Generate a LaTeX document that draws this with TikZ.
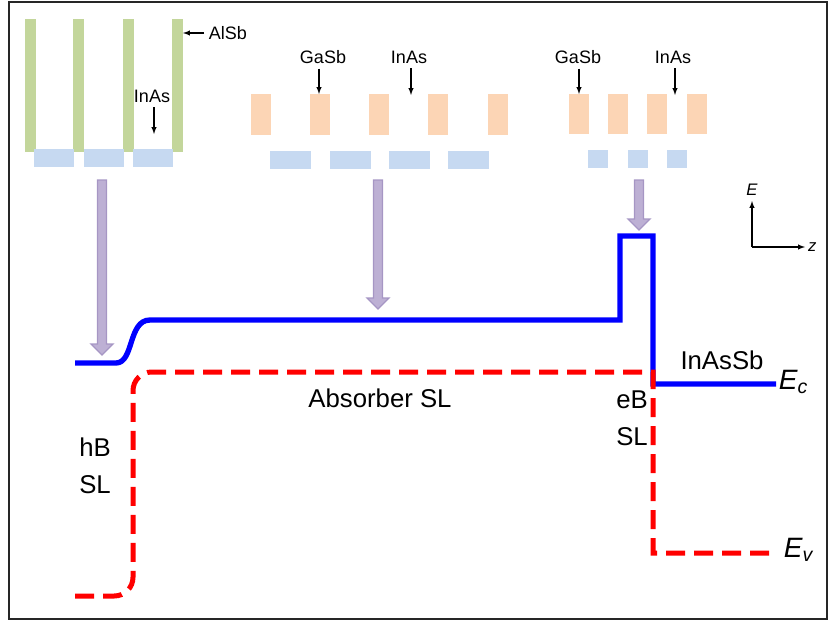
\documentclass[tikz,border=0pt]{standalone}
\usepackage{fontspec}
\setmainfont{Liberation Sans}
\usetikzlibrary{arrows, positioning, calc}

\definecolor{alsbgreen}{RGB}{195,214,155}
\definecolor{gasborange}{RGB}{252,213,181}
\definecolor{inasblue}{RGB}{198,217,241}
\definecolor{arrowfill}{RGB}{189,176,212}
\definecolor{arrowedge}{RGB}{166,150,196}

\begin{document}
\begin{tikzpicture}[x=0.75pt, y=-0.75pt, >=latex, thick,
    lbl/.style={font=\fontsize{19.3pt}{27.75pt}\selectfont},
    smalllbl/.style={font=\fontsize{13.5pt}{16pt}\selectfont},
    bandlbl/.style={font=\fontsize{21pt}{25pt}\selectfont\itshape},
    axislbl/.style={font=\fontsize{12.5pt}{15pt}\selectfont\itshape, inner sep=1pt},
    bigarrow/.style={fill=arrowfill, draw=arrowedge, line width=1pt},
    cband/.style={blue, line width=4pt},
    vband/.style={red, line width=3.75pt, dash pattern=on 14.25pt off 6.75pt}]
        \useasboundingbox (0,0) rectangle (833,621);
        \draw[black!85, line width=1.2pt] (9,2) rectangle (827,619);

        % Layer stacks (top)
        \foreach \x in {25,73,123,172} \fill[alsbgreen] (\x,19) rectangle ++(11,133);
        \foreach \x in {34,84,133} \fill[inasblue] (\x,149) rectangle ++(40,18);
        \foreach \x in {251,310,369,428,488} \fill[gasborange] (\x,94) rectangle ++(20,41);
        \foreach \x in {270,330,389,448} \fill[inasblue] (\x,151) rectangle ++(41,18);
        \foreach \x in {569,608,647,687} \fill[gasborange] (\x,94) rectangle ++(20,40);
        \foreach \x in {588,628,667} \fill[inasblue] (\x,150) rectangle ++(20,18);

        % Layer labels
        \node (AlSb) [smalllbl, anchor=west] at (204,33) {AlSb};
        \node (InAsL) [smalllbl] at (152,96) {InAs};
        \node (GaSbM) [smalllbl] at (323,57) {GaSb};
        \node (InAsM) [smalllbl] at (409,57) {InAs};
        \node (GaSbR) [smalllbl] at (578,57) {GaSb};
        \node (InAsR) [smalllbl] at (673,57) {InAs};
        \coordinate (alsbtip) at (183,33);
        \coordinate (inasLtip) at (154,134);
        \coordinate (gasbMtip) at (319,94);
        \coordinate (inasMtip) at (411,95);
        \coordinate (gasbRtip) at (579,94);
        \coordinate (inasRtip) at (675,95);
        \draw[->] (AlSb) -- (alsbtip);
        \draw[->] (inasLtip |- InAsL.south) -- (inasLtip);
        \draw[->] (gasbMtip |- GaSbM.south) -- (gasbMtip);
        \draw[->] (inasMtip |- InAsM.south) -- (inasMtip);
        \draw[->] (gasbRtip |- GaSbR.south) -- (gasbRtip);
        \draw[->] (inasRtip |- InAsR.south) -- (inasRtip);

        % Fat arrows down to the bands
        \foreach \cx/\ya/\yb in {102/180/355, 378/180/309, 639/180/230}
            \draw[bigarrow] (\cx-4.5,\ya) -- (\cx+4.5,\ya) -- (\cx+4.5,\yb-11) -- (\cx+11,\yb-11)
                -- (\cx,\yb) -- (\cx-11,\yb-11) -- (\cx-4.5,\yb-11) -- cycle;

        % Bands
        \draw[cband] (75,363) -- (116,363) .. controls (134,363) and (128,320) .. (150,320)
            -- (620,320) -- (620,236) -- (653,236) -- (653,384) -- (776,384);
        \draw[vband, rounded corners=14] (75,596) -- (133,596) -- (133,372) [sharp corners]
            -- (653,372) -- (653,553) -- (776,553);

        % Region labels
        \node (Absorber) [lbl] at (380,398) {Absorber SL};
        \node (hB) [lbl, align=center] at (95,466) {hB\\SL};
        \node (eB) [lbl, align=center] at (632,418) {eB\\SL};
        \node (InAsSb) [lbl] at (722,360) {InAsSb};
        \node (Ec) [bandlbl, anchor=base west] at (774,389) {E\textsubscript{c}};
        \node (Ev) [bandlbl, anchor=base west] at (779,557) {E\textsubscript{v}};

        % Axes
        \coordinate (origin) at (752,247);
        \coordinate (Etip) at (752,201);
        \coordinate (ztip) at (805,247);
        \draw[->] (origin) -- (Etip);
        \draw[->] (origin) -- (ztip);
        \node (Elbl) [axislbl, above=3pt of Etip] {E};
        \node (zlbl) [axislbl, right=1pt of ztip] {z};
    \end{tikzpicture}
\end{document}
